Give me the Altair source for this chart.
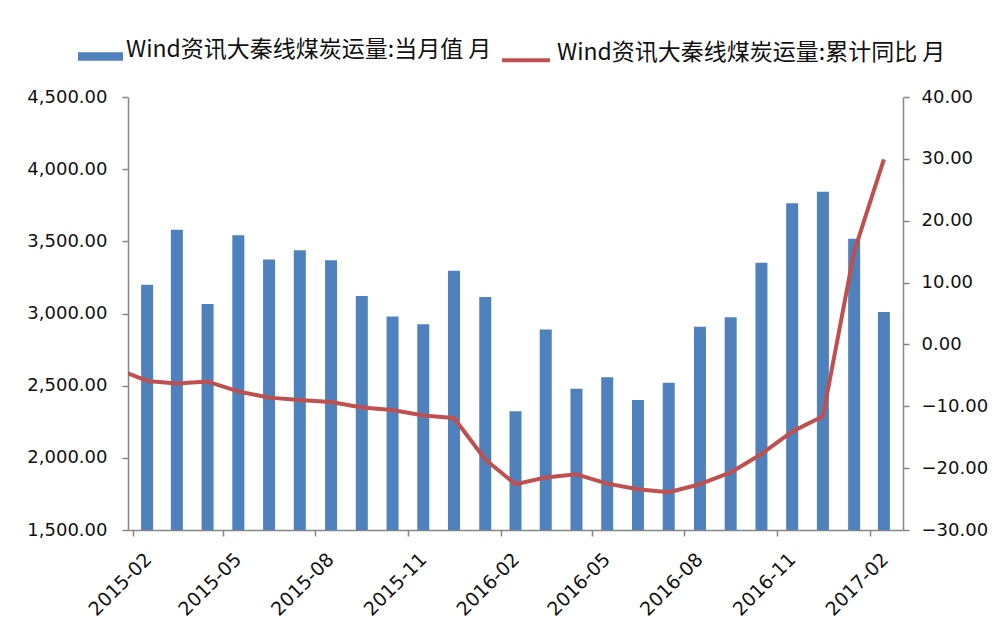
import altair as alt
import pandas as pd

# ---------------- data ----------------
months = ["2015-02", "2015-03", "2015-04", "2015-05", "2015-06", "2015-07",
          "2015-08", "2015-09", "2015-10", "2015-11", "2015-12", "2016-01",
          "2016-02", "2016-03", "2016-04", "2016-05", "2016-06", "2016-07",
          "2016-08", "2016-09", "2016-10", "2016-11", "2016-12", "2017-01",
          "2017-02"]
volume = [3200, 3580, 3066, 3542, 3375, 3438, 3369, 3121, 2980, 2925, 3297,
          3114, 2322, 2890, 2479, 2558, 2401, 2521, 2909, 2974, 3352, 3764,
          3844, 3518, 3010]

yoy_months = ["2015-01"] + months
yoy = [-4.0, -5.9, -6.3, -6.0, -7.6, -8.6, -9.0, -9.3, -10.2, -10.6, -11.5,
       -11.9, -18.6, -22.6, -21.5, -21.0, -22.5, -23.4, -23.9, -22.6, -20.7,
       -17.7, -14.1, -11.6, 15.0, 29.9]

tick_labels = months[::3]
left_ticks = [1500, 2000, 2500, 3000, 3500, 4000, 4500]
right_ticks = [-30, -20, -10, 0, 10, 20, 30, 40]

name_bar = "Wind资讯大秦线煤炭运量:当月值 月"
name_line = "Wind资讯大秦线煤炭运量:累计同比 月"


def mid_month(ms):
    start = pd.to_datetime(ms, format="%Y-%m")
    end = start + pd.offsets.MonthBegin(1)
    return start + (end - start) / 2


bar_df = pd.DataFrame({"date": mid_month(months), "value": volume,
                       "series": name_bar})
line_df = pd.DataFrame({"date": mid_month(yoy_months), "value": yoy,
                        "series": name_line})


def dt(m):
    y, mo = m.split("-")
    return alt.DateTime(year=int(y), month=int(mo), date=1)


AX = "#868686"
FONT = "DejaVu Sans"

x_enc = alt.X(
    "date:T",
    title=None,
    scale=alt.Scale(domain=[dt("2015-02"), dt("2017-03")]),
    axis=alt.Axis(values=[dt(m) for m in tick_labels], format="%Y-%m",
                  labelAngle=-45, labelAlign="right", labelBaseline="middle",
                  labelOffset=15, labelPadding=20, tickSize=6, grid=False,
                  labelFontSize=19, labelFlush=False, labelOverlap=False),
)

bars = alt.Chart(bar_df).mark_bar(size=12, clip=True).encode(
    x=x_enc,
    y=alt.Y("value:Q", title=None,
            scale=alt.Scale(domain=[1500, 4500], nice=False, zero=False),
            axis=alt.Axis(values=left_ticks, format=",.2f", orient="left",
                          tickSize=6, labelPadding=15, grid=False)),
    fill=alt.Fill("series:N",
                  scale=alt.Scale(domain=[name_bar], range=["#4F81BD"]),
                  legend=alt.Legend(orient="none", legendX=-50, legendY=-70,
                                    title=None,
                                    symbolType="M-1,0.12H1V0.5H-1Z",
                                    symbolSize=2025, symbolStrokeWidth=0,
                                    labelOffset=3, labelLimit=600)),
)

line = alt.Chart(line_df).mark_line(clip=True, strokeWidth=4,
                                    strokeJoin="round").encode(
    x=x_enc,
    y=alt.Y("value:Q", title=None,
            scale=alt.Scale(domain=[-30, 40], nice=False, zero=False),
            axis=alt.Axis(values=right_ticks, format=".2f", orient="right",
                          tickSize=6, labelPadding=12, grid=False)),
    stroke=alt.Stroke("series:N",
                      scale=alt.Scale(domain=[name_line], range=["#C0504D"]),
                      legend=alt.Legend(orient="none", legendX=372, legendY=-70,
                                        title=None, symbolType="M-1,0.3H1",
                                        symbolSize=2304, symbolStrokeWidth=4,
                                        labelOffset=5, labelLimit=600)),
)

chart = alt.layer(bars, line).resolve_scale(
    y="independent"
).properties(
    width=775, height=433,
    autosize=alt.AutoSizeParams(type="none"),
    padding={"left": 120, "top": 89, "right": 87, "bottom": 95},
).configure_view(stroke=None).configure_axis(
    domainColor=AX, tickColor=AX, domainWidth=1.5, tickWidth=1.5,
    labelFont=FONT, labelFontSize=18, labelColor="#111111",
).configure_legend(
    labelFont="Noto Sans CJK SC", labelFontSize=23, labelColor="#111111",
)

chart.save("out.html", embed_options={"renderer": "svg", "actions": False})
